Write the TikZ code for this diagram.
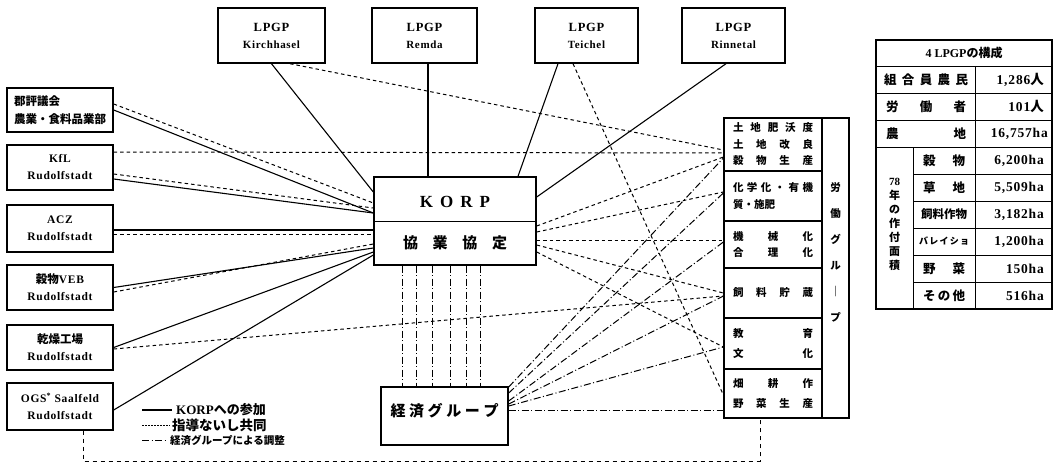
\documentclass[tikz,border=0pt]{standalone}
\usepackage{fontspec}
\setmainfont{Liberation Serif}
\newfontfamily\jp{Noto Sans CJK JP}
\newfontfamily\lat{Liberation Serif}[LetterSpace=6]
\usetikzlibrary{calc}
\newcommand\spr[2]{\makebox[#1]{#2}}
\tikzset{
 lbox/.style={draw, line width=1.4pt, inner sep=0pt, minimum width=106pt, align=center, font=\lat\bfseries\fontsize{11.5}{14}\selectfont},
 tbox/.style={draw, line width=1.4pt, inner sep=0pt, minimum height=55pt, align=center, font=\lat\bfseries\fontsize{11}{13}\selectfont},
 sec/.style={draw, line width=1.2pt, inner sep=0pt, minimum width=98pt, font=\jp\bfseries\fontsize{10.5}{16.5}\selectfont, align=left},
 part/.style={line width=1.1pt},
 guide/.style={line width=1pt, dash pattern=on 3.5pt off 3pt},
 econ/.style={line width=1pt, dash pattern=on 7pt off 2.5pt on 1pt off 2.5pt},
 loopln/.style={line width=1pt, dash pattern=on 4pt off 4pt},
 txt/.style={inner sep=0pt, font=\jp\bfseries\fontsize{12.5}{13}\selectfont},
 val/.style={inner sep=0pt, anchor=east, font=\lat\bfseries\fontsize{13.5}{14}\selectfont},
 tline/.style={line width=0.9pt},
}
\begin{document}
\begin{tikzpicture}[x=1pt,y=-1pt]
\fill[white] (0,0) rectangle (1056,468);
\useasboundingbox (0,0) rectangle (1056,468);

% left boxes
\node[lbox, minimum height=44pt, font=\jp\bfseries\fontsize{11.5}{18}\selectfont, align=left] (b1) at (60,110) {郡評議会\\農業・食料品業部};
\node[lbox, minimum height=45pt] (b2) at (60,167.5) {KfL\\[3pt]Rudolfstadt};
\node[lbox, minimum height=47pt] (b3) at (60,228.5) {ACZ\\[3pt]Rudolfstadt};
\node[lbox, minimum height=45pt] (b4) at (60,287.5) {{\jp 穀物}VEB\\[3pt]Rudolfstadt};
\node[lbox, minimum height=45pt] (b5) at (60,347.5) {{\jp 乾燥工場}\\[3pt]Rudolfstadt};
\node[lbox, minimum height=47pt] (b6) at (60,406.5) {OGS\textsuperscript{*} Saalfeld\\[3pt]Rudolfstadt};

% top boxes
\node[tbox, minimum width=107pt] (t1) at (271.5,35.5) {{\fontsize{12.5}{14}\selectfont LPGP}\\[4pt]Kirchhasel};
\node[tbox, minimum width=105pt] (t2) at (424.5,35.5) {{\fontsize{12.5}{14}\selectfont LPGP}\\[4pt]Remda};
\node[tbox, minimum width=103pt] (t3) at (586.5,35.5) {{\fontsize{12.5}{14}\selectfont LPGP}\\[4pt]Teichel};
\node[tbox, minimum width=103pt] (t4) at (733.5,35.5) {{\fontsize{12.5}{14}\selectfont LPGP}\\[4pt]Rinnetal};

% KORP
\node[draw, line width=1.4pt, minimum width=162pt, minimum height=88pt, inner sep=0pt] (korp) at (455,221) {};
\draw[line width=0.9pt] (korp.west) -- (korp.east);
\node[inner sep=0pt, font=\bfseries\fontsize{17}{17}\selectfont] (korpa) at ($(korp.center)+(0,-19)$) {K\hspace{7pt}O\hspace{7pt}R\hspace{7pt}P};
\node[inner sep=0pt, font=\jp\bfseries\fontsize{15}{15}\selectfont] (korpb) at ($(korp.center)+(0,22)$) {\spr{104pt}{協\hfill 業\hfill 協\hfill 定}};

% economic group
\node[draw, line width=1.4pt, minimum width=127pt, minimum height=58pt, inner sep=0pt] (eco) at (444.5,416) {};
\node[inner sep=0pt, font=\jp\bfseries\fontsize{15}{15}\selectfont] (ecot) at ($(eco.center)+(0,-5)$) {\spr{108pt}{経\hfill 済\hfill グ\hfill ル\hfill ー\hfill プ}};

% right sections
\node[sec, minimum height=53pt] (r1) at (773,144.5) {\spr{80pt}{土\hfill 地\hfill 肥\hfill 沃\hfill 度}\\\spr{80pt}{土\hfill 地\hfill 改\hfill 良}\\\spr{80pt}{穀\hfill 物\hfill 生\hfill 産}};
\node[sec, minimum height=50pt] (r2) at (773,196) {\spr{80pt}{化\hfill 学\hfill 化\hfill ・\hfill 有\hfill 機}\\\spr{80pt}{質・施肥\hfill}};
\node[sec, minimum height=47pt] (r3) at (773,244.5) {\spr{80pt}{機\hfill 械\hfill 化}\\\spr{80pt}{合\hfill 理\hfill 化}};
\node[sec, minimum height=50pt] (r4) at (773,293) {\spr{80pt}{飼\hfill 料\hfill 貯\hfill 蔵}};
\node[sec, minimum height=51pt, font=\jp\bfseries\fontsize{10.5}{20}\selectfont] (r5) at (773,343.5) {\spr{80pt}{教\hfill 育}\\\spr{80pt}{文\hfill 化}};
\node[sec, minimum height=49pt, font=\jp\bfseries\fontsize{10.5}{20}\selectfont] (r6) at (773,393.5) {\spr{80pt}{畑\hfill 耕\hfill 作}\\\spr{80pt}{野\hfill 菜\hfill 生\hfill 産}};
\node[draw, line width=1.2pt, minimum width=27pt, minimum height=300pt, inner sep=0pt] (rg) at (835.5,268) {};
\node[inner sep=0pt, align=center, font=\jp\bfseries\fontsize{10.5}{26}\selectfont] (rgt) at (835.5,252.5) {労\\働\\グ\\ル\\｜\\プ};

% participation (solid)
\draw[part] (b1.east) -- ($(korp.west)+(0,-8)$);
\draw[part] ($(b2.east)+(0,11.5)$) -- ($(korp.west)+(0,-8)$);
\draw[part] ($(b3.east)+(0,1.5)$) -- ($(korp.west)+(0,9)$);
\draw[part] (b4.east) -- ($(korp.west)+(0,27)$);
\draw[part] (b5.east) -- ($(korp.west)+(0,31)$);
\draw[part] ($(b6.east)+(0,3.5)$) -- ($(korp.west)+(0,34)$);
\draw[part] (t1.south) -- ($(korp.west)+(0,-29)$);
\draw[part] ($(t2.south)+(3.5,0)$) -- ($(korp.north)+(-27,0)$);
\draw[part] ($(t3.south)+(-28.5,0)$) -- ($(korp.north)+(63,0)$);
\draw[part] ($(t4.south)+(-7.5,0)$) -- ($(korp.east)+(0,-24)$);

% guidance / joint (dotted)
\draw[guide] ($(b1.east)+(0,-6)$) -- ($(korp.west)+(0,-18)$);
\draw[guide] ($(b2.east)+(0,-15.5)$) -- ($(r1.west)+(0,8.5)$);
\draw[guide] ($(b2.east)+(0,6.5)$) -- ($(korp.west)+(0,-13)$);
\draw[guide] ($(b3.east)+(0,5.5)$) -- ($(korp.west)+(0,13)$);
\draw[guide] ($(b4.east)+(0,4.5)$) -- ($(korp.west)+(0,23)$);
\draw[guide] ($(b5.east)+(0,1.5)$) -- ($(r4.west)+(0,3)$);
\draw[guide] ($(t1.south)+(18.5,0)$) -- ($(r1.west)+(0,5.5)$);
\draw[guide] ($(t3.south)+(-13.5,0)$) -- ($(r6.west)+(0,1.5)$);
\draw[guide] ($(korp.east)+(0,5)$) -- ($(r1.west)+(0,12.5)$);
\draw[guide] ($(korp.east)+(0,11)$) -- ($(r2.west)+(0,-4)$);
\draw[guide] ($(korp.east)+(0,19)$) -- ($(r3.west)+(0,-4.5)$);
\draw[guide] ($(korp.east)+(0,24)$) -- (r4.west);
\draw[guide] ($(korp.east)+(0,31)$) -- ($(r5.west)+(0,3.5)$);

% economic group coordination (dash-dot)
\draw[econ] ($(eco.east)+(0,-29)$) -- ($(r1.west)+(0,13.5)$);
\draw[econ] ($(eco.east)+(0,-23)$) -- ($(r2.west)+(0,-3)$);
\draw[econ] ($(eco.east)+(0,-15)$) -- ($(r3.west)+(0,-2.5)$);
\draw[econ] ($(eco.east)+(0,-12)$) -- ($(r4.west)+(0,3)$);
\draw[econ] ($(eco.east)+(0,-10)$) -- ($(r5.west)+(0,3.5)$);
\draw[econ] ($(eco.east)+(0,-6)$) -- ($(r6.west)+(0,16.5)$);
\foreach \d in {-53,-39,-23,-5,11,25}
  \draw[econ] ($(korp.south)+(\d,0)$) coordinate (vv) -- (vv |- eco.north);

% bottom dashed loop
\coordinate (lpy) at (0,461);
\draw[loopln] ($(b6.south)+(23,0)$) coordinate (s0) -- (s0 |- lpy) -| ($(r6.south)+(-13,0)$);

% legend
\coordinate (lg1) at (142,410);
\coordinate (lg2) at (142,425);
\coordinate (lg3) at (142,440);
\node[inner sep=0pt, anchor=west, font=\jp\bfseries\fontsize{13}{13}\selectfont] (lt1) at (176,410) {{\rmfamily KORP}への参加};
\node[inner sep=0pt, anchor=west, font=\jp\bfseries\fontsize{13.5}{13}\selectfont] (lt2) at (172,425) {指導ないし共同};
\node[inner sep=0pt, anchor=west, font=\jp\bfseries\fontsize{10.5}{12}\selectfont] (lt3) at (170,440) {経済グループによる調整};
\draw[part] (lg1) -- ($(lt1.west)+(-4,0)$);
\draw[line width=1pt, dash pattern=on 1.5pt off 1.5pt] (lg2) -- ($(lt2.west)+(-2,0)$);
\draw[econ] (lg3) -- ($(lt3.west)+(-2,0)$);

% table
\draw[line width=1.2pt] (876,40) rectangle (1052,309);
\foreach \yy in {66,93,120,147} \draw[tline] (876,\yy) -- (1052,\yy);
\foreach \yy in {174,201,228,255,282} \draw[tline] (913,\yy) -- (1052,\yy);
\draw[tline] (975,66) -- (975,309);
\draw[tline] (913,147) -- (913,309);
\node[txt, font=\jp\bfseries\fontsize{12}{12}\selectfont] (tt) at (964,53) {{\rmfamily 4 LPGP}の構成};
\node[txt] (l1) at (926,79.5) {\spr{84pt}{組\hfill 合\hfill 員\hfill 農\hfill 民}};
\node[txt] (l2) at (926,106.5) {\spr{80pt}{労\hfill 働\hfill 者}};
\node[txt] (l3) at (926,133.5) {\spr{80pt}{農\hfill 地}};
\node[txt] (l4) at (944,160.5) {\spr{42pt}{穀\hfill 物}};
\node[txt] (l5) at (944,187.5) {\spr{42pt}{草\hfill 地}};
\node[txt, font=\jp\bfseries\fontsize{11.5}{12}\selectfont] (l6) at (944,214.5) {飼料作物};
\node[txt, font=\jp\bfseries\fontsize{9}{10}\selectfont] (l7) at (944,241.5) {\spr{50pt}{バ\hfill レ\hfill イ\hfill シ\hfill ョ}};
\node[txt] (l8) at (944,268.5) {\spr{42pt}{野\hfill 菜}};
\node[txt] (l9) at (944,295.5) {\spr{42pt}{そ\hfill の\hfill 他}};
\node[txt, align=center, font=\jp\bfseries\fontsize{11}{14}\selectfont] (vl) at (894.5,224) {{\rmfamily 78}\\年\\の\\作\\付\\面\\積};
\node[val] (v1) at (1044,79.5) {1,286{\jp 人}};
\node[val] (v2) at (1044,106.5) {101{\jp 人}};
\node[val] (v3) at (1048,133.5) {16,757ha};
\node[val] (v4) at (1044,160.5) {6,200ha};
\node[val] (v5) at (1044,187.5) {5,509ha};
\node[val] (v6) at (1044,214.5) {3,182ha};
\node[val] (v7) at (1044,241.5) {1,200ha};
\node[val] (v8) at (1044,268.5) {150ha};
\node[val] (v9) at (1044,295.5) {516ha};
\end{tikzpicture}
\end{document}
